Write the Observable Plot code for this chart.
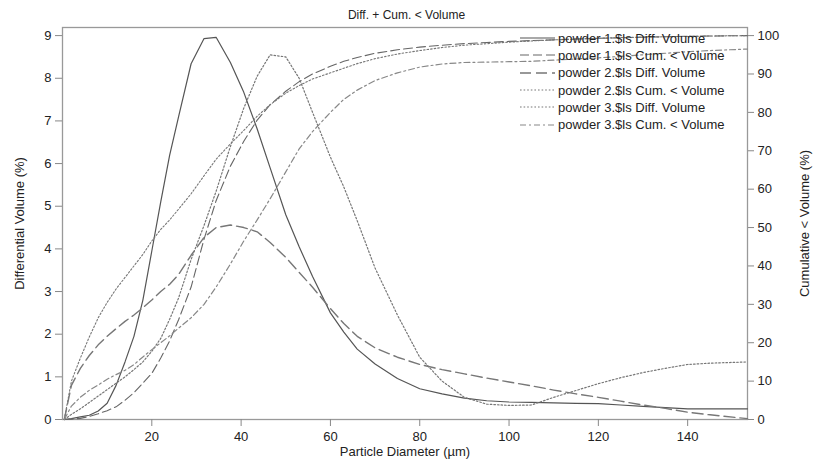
<!DOCTYPE html>
<html>
<head>
<meta charset="utf-8">
<script src="https://cdn.jsdelivr.net/npm/d3@7"></script>
<script src="https://cdn.jsdelivr.net/npm/@observablehq/plot@0.6"></script>
<style>
  body { margin: 0; background: #fff; font-family: "Liberation Sans", Arial, sans-serif; }
  #wrap { position: relative; width: 813px; }
  #title { height: 22px; line-height: 30px; font-size: 12px; color: #222; text-align: center; width: 813px; }
  #legend { position: absolute; left: 520px; top: 29.5px; font-size: 13px; color: #222; }
  .row { height: 17.3px; display: flex; align-items: center; white-space: nowrap; }
  .row svg { margin-right: 3px; }
</style>
</head>
<body>
<div id="wrap">
  <div id="title">Diff. + Cum. &lt; Volume</div>
  <div id="chart"></div>
  <div id="legend"></div>
</div>
<script>
// Particle diameter grid (µm)
const diameter = [0.4, 2, 4, 6, 8, 10, 12, 14, 16, 18, 20, 22, 24, 26, 28.8, 31.7, 34.4, 37.6, 40.6, 43.6, 46.5, 50, 53, 56, 60, 63, 66, 70, 75, 80, 85, 90, 95, 100, 105, 110, 115, 120, 125, 130, 135, 140, 145, 153.4];

// Differential volume (%)
const p1Diff = [0, 0.02, 0.06, 0.1, 0.2, 0.38, 0.8, 1.35, 1.95, 2.8, 3.95, 5.1, 6.2, 7.1, 8.34, 8.93, 8.96, 8.37, 7.67, 6.81, 5.9, 4.8, 4.05, 3.35, 2.5, 2.05, 1.65, 1.3, 0.96, 0.72, 0.6, 0.5, 0.44, 0.41, 0.4, 0.39, 0.38, 0.37, 0.34, 0.31, 0.28, 0.25, 0.25, 0.25];
const p2Diff = [0, 0.8, 1.2, 1.5, 1.75, 1.95, 2.13, 2.3, 2.45, 2.62, 2.8, 3.0, 3.17, 3.4, 3.85, 4.27, 4.5, 4.56, 4.5, 4.4, 4.15, 3.8, 3.45, 3.1, 2.6, 2.25, 1.95, 1.68, 1.46, 1.29, 1.17, 1.07, 0.97, 0.88, 0.79, 0.69, 0.6, 0.52, 0.43, 0.34, 0.26, 0.17, 0.11, 0.02];
const p3Diff = [0, 0.12, 0.25, 0.4, 0.55, 0.7, 0.85, 1.0, 1.17, 1.35, 1.6, 1.9, 2.35, 2.85, 3.75, 4.55, 5.35, 6.4, 7.3, 8.05, 8.55, 8.5, 8.0, 7.2, 6.15, 5.45, 4.66, 3.55, 2.45, 1.46, 0.9, 0.52, 0.36, 0.33, 0.34, 0.52, 0.68, 0.84, 0.98, 1.1, 1.2, 1.29, 1.32, 1.35];

// Cumulative < volume (%)
const p1Cum = [0, 0.1, 0.3, 0.8, 1.5, 2.3, 3.3, 5, 7, 9.5, 12, 16, 20.5, 26, 34.5, 47, 57, 66, 72.5, 78, 82, 85.5, 88, 90, 92, 93.3, 94.3, 95.4, 96.3, 97, 97.5, 97.9, 98.2, 98.5, 98.7, 98.9, 99.1, 99.3, 99.4, 99.6, 99.7, 99.8, 99.9, 100];
const p2Cum = [0, 10, 16, 21.5, 26.5, 30.5, 34, 37, 40, 43, 46.5, 49.5, 52, 54.8, 58.8, 63.5, 67.8, 71.8, 75.3, 79, 82, 85, 87, 88.7, 90.3, 91.5, 92.7, 94, 95.2, 96.1, 96.9, 97.5, 97.9, 98.3, 98.6, 98.9, 99.1, 99.3, 99.5, 99.6, 99.7, 99.8, 99.9, 100];
const p3Cum = [0, 3.5, 5.8, 7.6, 9, 10.5, 11.7, 12.8, 14.3, 16.3, 18.2, 20, 21.8, 23.8, 26.5, 30, 34.5, 40.5, 46.5, 52, 57.5, 64.5, 70.5, 75, 80, 83.4, 85.8, 88.3, 90.3, 91.8, 92.6, 93, 93.1, 93.2, 93.3, 93.6, 93.9, 94.2, 94.6, 95, 95.4, 95.8, 96.1, 96.5];

const xTicks = [20, 40, 60, 80, 100, 120, 140];
const leftTicks = [0, 1, 2, 3, 4, 5, 6, 7, 8, 9];
const cumTicks = [0, 10, 20, 30, 40, 50, 60, 70, 80, 90, 100];

const seriesNames = [
  "powder 1.$ls Diff. Volume",
  "powder 1.$ls Cum. < Volume",
  "powder 2.$ls Diff. Volume",
  "powder 2.$ls Cum. < Volume",
  "powder 3.$ls Diff. Volume",
  "powder 3.$ls Cum. < Volume"
];

// scale factor: right axis 100 aligns with left axis 9
const K = 0.09;

const styles = [
  {stroke: "#555", strokeWidth: 1.2, dash: null},
  {stroke: "#666", strokeWidth: 1.1, dash: "9,4"},
  {stroke: "#777", strokeWidth: 1.4, dash: "11,5"},
  {stroke: "#777", strokeWidth: 1.1, dash: "1.6,2"},
  {stroke: "#777", strokeWidth: 1.2, dash: "1.6,2"},
  {stroke: "#888", strokeWidth: 1.2, dash: "6,3,2,3"}
];

const seriesValues = [p1Diff, p1Cum.map(c => c * K), p2Diff, p2Cum.map(c => c * K), p3Diff, p3Cum.map(c => c * K)];

const lineMarks = seriesValues.map((vals, s) => {
  const rows = diameter.map((d, i) => ({x: d, y: vals[i]}));
  const st = styles[s];
  const opts = {x: "x", y: "y", stroke: st.stroke, strokeWidth: st.strokeWidth};
  if (st.dash) opts.strokeDasharray = st.dash;
  return Plot.line(rows, opts);
});

const chart = Plot.plot({
  width: 813,
  height: 441,
  marginLeft: 62,
  marginRight: 66,
  marginTop: 5,
  marginBottom: 44,
  x: {domain: [0, 153.4]},
  y: {domain: [0, 9.19]},
  style: {fontFamily: "'Liberation Sans', Arial, sans-serif", fontSize: "13px", color: "#222", background: "#fff"},
  marks: [
    Plot.frame({stroke: "#999", strokeWidth: 1.3}),
    Plot.axisX(xTicks, {tickSize: 7, tickPadding: 5, stroke: "#888", label: "Particle Diameter (µm)", labelAnchor: "center", labelOffset: 36, labelArrow: "none"}),
    Plot.axisY(leftTicks, {anchor: "left", tickSize: 7, tickPadding: 4, stroke: "#888", label: "Differential Volume (%)", labelAnchor: "center", labelOffset: 48, labelArrow: "none"}),
    Plot.axisY(cumTicks.map(c => c * K), {anchor: "right", tickSize: 6, tickPadding: 4, stroke: "#888", tickFormat: d => String(Math.round(d / K)), label: "Cumulative < Volume (%)", labelAnchor: "center", labelOffset: 61, labelArrow: "none"}),
    ...lineMarks
  ]
});
document.getElementById("chart").appendChild(chart);

// Legend
const legend = document.getElementById("legend");
seriesNames.forEach((name, s) => {
  const st = styles[s];
  const row = document.createElement("div");
  row.className = "row";
  const ns = "http://www.w3.org/2000/svg";
  const svg = document.createElementNS(ns, "svg");
  svg.setAttribute("width", 35);
  svg.setAttribute("height", 10);
  const ln = document.createElementNS(ns, "line");
  ln.setAttribute("x1", 0); ln.setAttribute("x2", 35);
  ln.setAttribute("y1", 5); ln.setAttribute("y2", 5);
  ln.setAttribute("stroke", st.stroke);
  ln.setAttribute("stroke-width", st.strokeWidth);
  if (st.dash) ln.setAttribute("stroke-dasharray", st.dash);
  svg.appendChild(ln);
  row.appendChild(svg);
  const t = document.createElement("span");
  t.textContent = name;
  row.appendChild(t);
  legend.appendChild(row);
});
</script>
</body>
</html>
